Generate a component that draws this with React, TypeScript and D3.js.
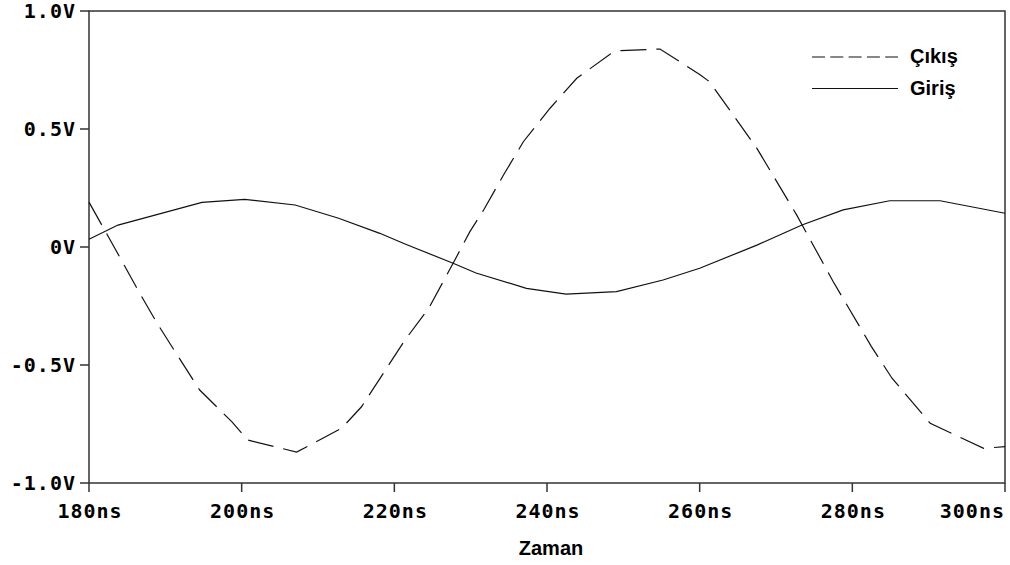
import React from 'react';
import * as d3 from 'd3';

const cikisTime = [180, 184.1, 186.4, 188.9, 191.7, 194.5, 198.7, 200.8, 207.2, 213.1, 215.7, 221.4, 224.5, 227.7, 229.9, 231.7, 234.3, 236.9, 240.4, 243.9, 248.3, 249.6, 254.8, 260.1, 261.3, 267.5, 272.7, 277.5, 282.5, 285.2, 290.2, 297.2, 300];
const cikisValue = [0.19, -0.047, -0.182, -0.322, -0.465, -0.606, -0.74, -0.818, -0.869, -0.768, -0.677, -0.394, -0.26, -0.069, 0.065, 0.157, 0.305, 0.446, 0.588, 0.715, 0.818, 0.832, 0.839, 0.729, 0.7, 0.418, 0.136, -0.147, -0.422, -0.556, -0.747, -0.853, -0.846];

const girisTime = [180, 183.8, 194.8, 200.4, 207.0, 212.7, 218.1, 221.4, 227.7, 230.7, 237.3, 242.5, 249.1, 255.2, 260.0, 267.5, 273.4, 278.8, 284.9, 291.5, 300];
const girisValue = [0.033, 0.093, 0.189, 0.202, 0.178, 0.122, 0.058, 0.013, -0.069, -0.11, -0.175, -0.2, -0.189, -0.14, -0.09, 0.008, 0.093, 0.157, 0.196, 0.196, 0.143];

const xTicks = [180, 200, 220, 240, 260, 280, 300];
const xTickLabels = ['180ns', '200ns', '220ns', '240ns', '260ns', '280ns', '300ns'];
const yTicks = [1, 0.5, 0, -0.5, -1];
const yTickLabels = ['1.0V', '0.5V', '0V', '-0.5V', '-1.0V'];

const seriesNames = ['Çıkış', 'Giriş'];

const W = 1010;
const H = 565;
const left = 89, right = 1005, top = 11, bottom = 483;

const monoFont = '"DejaVu Sans Mono", monospace';
const sansFont = '"Liberation Sans", Arial, sans-serif';

const App = () => {
    const x = d3.scaleLinear().domain([180, 300]).range([left, right]);
    const y = d3.scaleLinear().domain([-1, 1]).range([bottom, top]);

    const cikisPts: [number, number][] = cikisTime.map((t, i) => [x(t), y(cikisValue[i])]);
    const girisPts: [number, number][] = girisTime.map((t, i) => [x(t), y(girisValue[i])]);
    const path = d3.line();

    return (
        <svg width={W} height={H} style={{position: 'absolute', left: 0, top: 0, background: '#fff'}}>
            {/* frame */}
            <rect x={left} y={top} width={right - left} height={bottom - top}
                  fill="none" stroke="#333" strokeWidth={1.5}/>

            {/* y axis */}
            {yTicks.map((v, i) => (
                <g key={'y' + v}>
                    <line x1={left - 9} x2={left} y1={y(v)} y2={y(v)} stroke="#333" strokeWidth={1.5}/>
                    <text x={76} y={y(v)} dy="0.36em" textAnchor="end" fontFamily={monoFont}
                          fontWeight="bold" fontSize={20} letterSpacing={1}>{yTickLabels[i]}</text>
                </g>
            ))}

            {/* x axis */}
            {xTicks.map((t, i) => (
                <g key={'x' + t}>
                    <line x1={x(t)} x2={x(t)} y1={bottom} y2={bottom + 9} stroke="#333" strokeWidth={1.5}/>
                    <text x={i === xTicks.length - 1 ? right : x(t) + 1} y={518}
                          textAnchor={i === xTicks.length - 1 ? 'end' : 'middle'}
                          fontFamily={monoFont} fontWeight="bold" fontSize={20} letterSpacing={1}>{xTickLabels[i]}</text>
                </g>
            ))}
            <text x={551} y={555} textAnchor="middle" fontFamily={sansFont} fontWeight="bold" fontSize={20}>Zaman</text>

            {/* traces */}
            <path d={path(cikisPts) || ''} fill="none" stroke="#111" strokeWidth={1.2} strokeDasharray="26,10"/>
            <path d={path(girisPts) || ''} fill="none" stroke="#111" strokeWidth={1.2}/>

            {/* legend */}
            <line x1={812} x2={898} y1={57} y2={57} stroke="#111" strokeWidth={1.2} strokeDasharray="13,5.3"/>
            <text x={910} y={63} fontFamily={sansFont} fontWeight="bold" fontSize={20}>{seriesNames[0]}</text>
            <line x1={812} x2={898} y1={88.5} y2={88.5} stroke="#111" strokeWidth={1.2}/>
            <text x={910} y={95} fontFamily={sansFont} fontWeight="bold" fontSize={20}>{seriesNames[1]}</text>
        </svg>
    );
};

export default App;
